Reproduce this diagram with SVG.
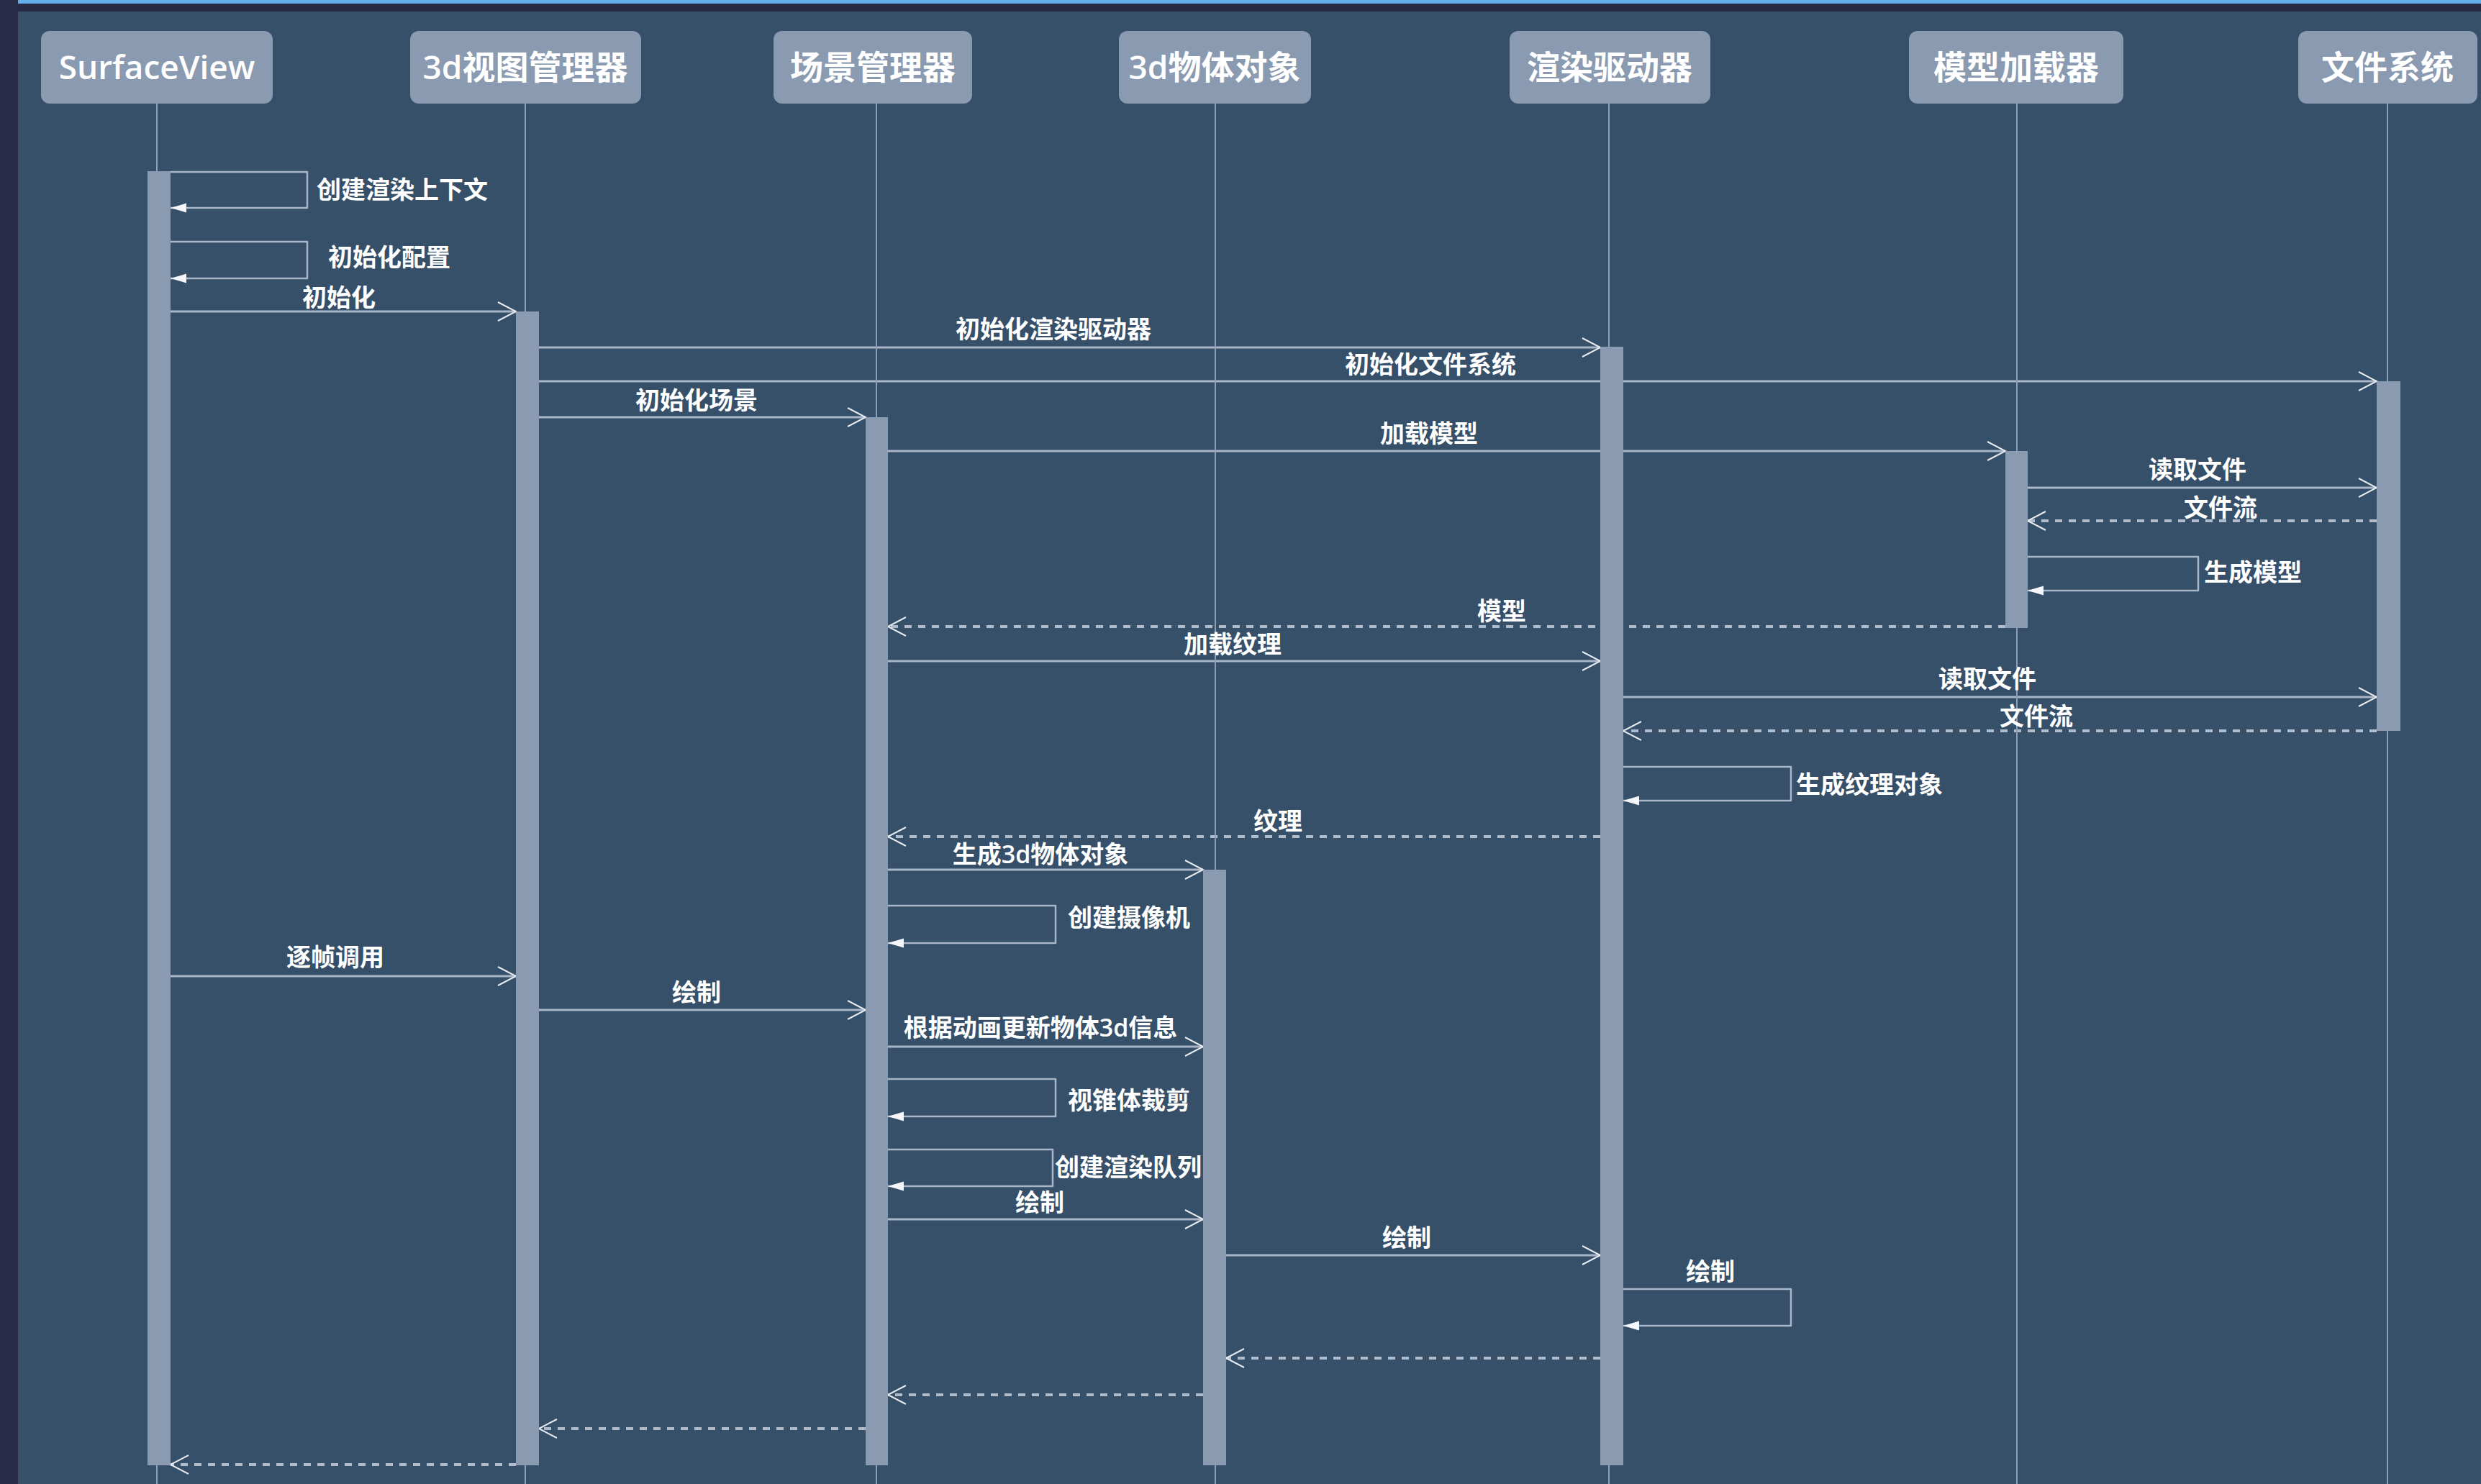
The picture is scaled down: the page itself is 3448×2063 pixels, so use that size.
<svg xmlns="http://www.w3.org/2000/svg" width="3448" height="2063" viewBox="0 0 3448 2063">
<style>
.hdr{font-family:"Open Sans","Noto Sans CJK SC",sans-serif;font-size:46px;fill:#ffffff;text-anchor:middle;font-weight:600}
.lbl{font-family:"Open Sans","Noto Sans CJK SC",sans-serif;font-size:34px;fill:#ffffff;font-weight:600}
.c{text-anchor:middle}
.box{fill:#8a9ab0}
.bar{fill:#8a9ab0}
.life{stroke:#8e9eb4;stroke-width:2;fill:none}
.call{stroke:#a9b6c7;stroke-width:3;fill:none;marker-end:url(#open)}
.ret{stroke:#b0bccb;stroke-width:4;fill:none;stroke-dasharray:10 9;marker-end:url(#open)}
.self{stroke:#a9b6c7;stroke-width:2.5;fill:none;stroke-linejoin:round;marker-end:url(#fill)}
</style>
<defs>
<marker id="open" markerUnits="userSpaceOnUse" viewBox="-30 -16 34 32" markerWidth="34" markerHeight="32" refX="0" refY="0" orient="auto">
<path d="M-25,-13 L0,0 L-25,13" fill="none" stroke="#e6ebf1" stroke-width="2"/>
</marker>
<marker id="fill" markerUnits="userSpaceOnUse" viewBox="-24 -8 26 16" markerWidth="26" markerHeight="16" refX="0" refY="0" orient="auto">
<path d="M-22,-6.5 L0,0 L-22,6.5 Z" fill="#f4f6f9"/>
</marker>
</defs>
<rect x="0" y="0" width="3448" height="2063" fill="#36506a"/>
<rect x="0" y="0" width="3448" height="16" fill="#282a45"/>
<rect x="0" y="0" width="3448" height="5" fill="#62aeea"/>
<rect x="0" y="0" width="25" height="2063" fill="#272b47"/>

<g id="connectors">
<path class="call" d="M237,433 H717"/>
<path class="call" d="M749,483 H2224"/>
<path class="call" d="M749,530 H3303"/>
<path class="call" d="M749,580 H1203"/>
<path class="call" d="M1234,627 H2787"/>
<path class="call" d="M2818,678 H3303"/>
<path class="ret" d="M3303,724 H2818"/>
<path class="self" d="M2818,774 H3055 V821 H2818"/>
<path class="ret" d="M2787,871 H1234"/>
<path class="call" d="M1234,919 H2224"/>
<path class="call" d="M2256,969 H3303"/>
<path class="ret" d="M3303,1016 H2256"/>
<path class="self" d="M2256,1066 H2489 V1113 H2256"/>
<path class="ret" d="M2224,1163 H1234"/>
<path class="call" d="M1234,1209 H1672"/>
<path class="self" d="M1234,1259 H1467 V1311 H1234"/>
<path class="call" d="M237,1357 H717"/>
<path class="call" d="M749,1404 H1203"/>
<path class="call" d="M1234,1455 H1672"/>
<path class="self" d="M1234,1500 H1467 V1552 H1234"/>
<path class="self" d="M1234,1598 H1463 V1649 H1234"/>
<path class="call" d="M1234,1695 H1672"/>
<path class="call" d="M1704,1745 H2224"/>
<path class="self" d="M2256,1792 H2489 V1843 H2256"/>
<path class="ret" d="M2224,1888 H1704"/>
<path class="ret" d="M1672,1939 H1234"/>
<path class="ret" d="M1203,1986 H749"/>
<path class="ret" d="M717,2036 H237"/>
<path class="self" d="M237,239 H427 V289 H237"/>
<path class="self" d="M237,336 H427 V387 H237"/>
</g>

<g id="surfaceview">
<rect class="box" x="57" y="43" width="322" height="101" rx="12"/>
<text class="hdr" x="218" y="110">SurfaceView</text>
<line class="life" x1="218" y1="144" x2="218" y2="2063"/>
<rect class="bar" x="205" y="238" width="32" height="1799"/>
</g>
<g id="view3d-manager">
<rect class="box" x="570" y="43" width="321" height="101" rx="12"/>
<text class="hdr" x="730" y="110">3d视图管理器</text>
<line class="life" x1="730" y1="144" x2="730" y2="2063"/>
<rect class="bar" x="717" y="433" width="32" height="1604"/>
</g>
<g id="scene-manager">
<rect class="box" x="1075" y="43" width="276" height="101" rx="12"/>
<text class="hdr" x="1213" y="110">场景管理器</text>
<line class="life" x1="1218" y1="144" x2="1218" y2="2063"/>
<rect class="bar" x="1203" y="580" width="31" height="1457"/>
</g>
<g id="object3d">
<rect class="box" x="1555" y="43" width="267" height="101" rx="12"/>
<text class="hdr" x="1688" y="110">3d物体对象</text>
<line class="life" x1="1689" y1="144" x2="1689" y2="2063"/>
<rect class="bar" x="1672" y="1209" width="32" height="828"/>
</g>
<g id="render-driver">
<rect class="box" x="2098" y="43" width="279" height="101" rx="12"/>
<text class="hdr" x="2237" y="110">渲染驱动器</text>
<line class="life" x1="2236" y1="144" x2="2236" y2="2063"/>
<rect class="bar" x="2224" y="482" width="32" height="1555"/>
</g>
<g id="model-loader">
<rect class="box" x="2653" y="43" width="298" height="101" rx="12"/>
<text class="hdr" x="2802" y="110">模型加载器</text>
<line class="life" x1="2803" y1="144" x2="2803" y2="2063"/>
<rect class="bar" x="2787" y="627" width="31" height="246"/>
</g>
<g id="file-system">
<rect class="box" x="3194" y="43" width="249" height="101" rx="12"/>
<text class="hdr" x="3318" y="110">文件系统</text>
<line class="life" x1="3318" y1="144" x2="3318" y2="2063"/>
<rect class="bar" x="3303" y="530" width="33" height="486"/>
</g>

<g id="labels">
<text class="lbl" x="440" y="276">创建渲染上下文</text>
<text class="lbl" x="456" y="370">初始化配置</text>
<text class="lbl c" x="471" y="426">初始化</text>
<text class="lbl c" x="1464" y="470">初始化渲染驱动器</text>
<text class="lbl c" x="1988" y="519">初始化文件系统</text>
<text class="lbl c" x="968" y="569">初始化场景</text>
<text class="lbl c" x="1986" y="615">加载模型</text>
<text class="lbl c" x="3054" y="665">读取文件</text>
<text class="lbl c" x="3086" y="718">文件流</text>
<text class="lbl" x="3063" y="808">生成模型</text>
<text class="lbl c" x="2087" y="862">模型</text>
<text class="lbl c" x="1713" y="908">加载纹理</text>
<text class="lbl c" x="2762" y="956">读取文件</text>
<text class="lbl c" x="2830" y="1008">文件流</text>
<text class="lbl" x="2496" y="1103">生成纹理对象</text>
<text class="lbl c" x="1776" y="1154">纹理</text>
<text class="lbl c" x="1446" y="1200">生成3d物体对象</text>
<text class="lbl" x="1484" y="1288">创建摄像机</text>
<text class="lbl c" x="466" y="1343">逐帧调用</text>
<text class="lbl c" x="968" y="1392">绘制</text>
<text class="lbl c" x="1446" y="1441">根据动画更新物体3d信息</text>
<text class="lbl" x="1484" y="1542">视锥体裁剪</text>
<text class="lbl" x="1466" y="1635">创建渲染队列</text>
<text class="lbl c" x="1445" y="1684">绘制</text>
<text class="lbl c" x="1955" y="1733">绘制</text>
<text class="lbl c" x="2377" y="1780">绘制</text>
</g>
</svg>
